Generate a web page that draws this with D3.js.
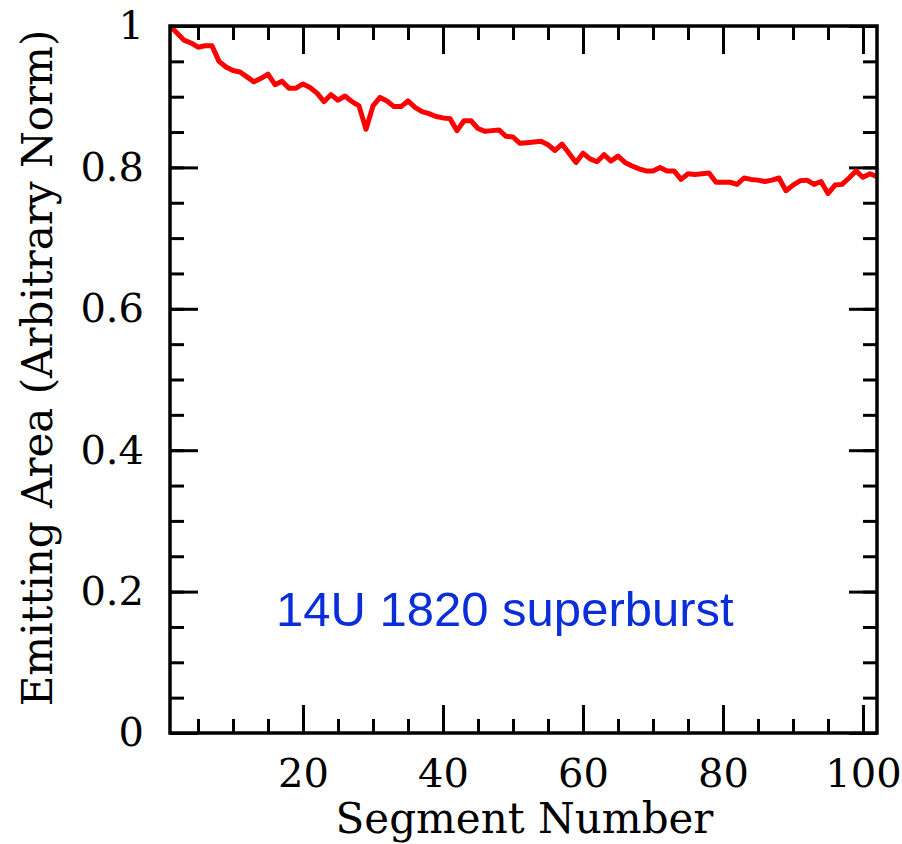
<!DOCTYPE html>
<html>
<head>
<meta charset="utf-8">
<script src="https://cdn.jsdelivr.net/npm/d3@7"></script>
<style>
  html, body { margin: 0; padding: 0; background: #fff; }
  svg { display: block; }
  .tick text { font-family: "DejaVu Serif", serif; }
</style>
</head>
<body>
<svg id="chart"></svg>
<script>
// segment numbers and emitting area
const segments = d3.range(1, 103);
const area = [
  1.000, 0.990, 0.980, 0.976, 0.970, 0.972, 0.972, 0.950, 0.942, 0.937,
  0.935, 0.928, 0.921, 0.926, 0.932, 0.917, 0.922, 0.912, 0.912, 0.918,
  0.913, 0.905, 0.893, 0.903, 0.895, 0.901, 0.893, 0.887, 0.854, 0.887,
  0.899, 0.894, 0.886, 0.886, 0.894, 0.885, 0.879, 0.876, 0.872, 0.870,
  0.869, 0.852, 0.866, 0.866, 0.855, 0.851, 0.852, 0.853, 0.844, 0.843,
  0.834, 0.835, 0.836, 0.837, 0.832, 0.824, 0.833, 0.820, 0.807, 0.820,
  0.812, 0.808, 0.818, 0.809, 0.816, 0.807, 0.802, 0.798, 0.795, 0.795,
  0.800, 0.795, 0.795, 0.783, 0.791, 0.790, 0.791, 0.792, 0.779, 0.779,
  0.779, 0.776, 0.785, 0.783, 0.782, 0.780, 0.782, 0.785, 0.767, 0.775,
  0.781, 0.782, 0.776, 0.780, 0.763, 0.775, 0.776, 0.785, 0.795, 0.786,
  0.791, 0.787
];
const xMajor = [20, 40, 60, 80, 100];
const xMinor = d3.range(5, 101, 5);
const yMajor = [0, 0.2, 0.4, 0.6, 0.8, 1];
const yMinor = d3.range(0, 21).map(i => i * 0.05);
const label = "14U 1820 superburst";

const W = 902, H = 844;
const plotL = 170, plotR = 877, plotT = 26, plotB = 733;
const MAJOR = 28, MINOR = 14;

const svg = d3.select('#chart').attr('width', W).attr('height', H);

const x = d3.scaleLinear().domain([1, 102]).range([plotL, plotR]);
const y = d3.scaleLinear().domain([0, 1]).range([plotB, plotT]);

const fmtY = d => d === 0 ? '0' : d === 1 ? '1' : d3.format('.1f')(d);

function addAxis(axis, tx, ty, showLabels) {
	const g = svg.append('g').attr('transform', `translate(${tx},${ty})`).call(axis);
	g.select('.domain').remove();
	g.selectAll('.tick line').attr('stroke', '#000').attr('stroke-width', 3);
	if (!showLabels) g.selectAll('.tick text').remove();
	return g;
}

// minor ticks, all four sides, pointing in
addAxis(d3.axisBottom(x).tickValues(xMinor).tickSize(-MINOR), 0, plotB, false);
addAxis(d3.axisTop(x).tickValues(xMinor).tickSize(-MINOR), 0, plotT, false);
addAxis(d3.axisLeft(y).tickValues(yMinor).tickSize(-MINOR), plotL, 0, false);
addAxis(d3.axisRight(y).tickValues(yMinor).tickSize(-MINOR), plotR, 0, false);

// major ticks
const gx = addAxis(d3.axisBottom(x).tickValues(xMajor).tickSize(-MAJOR).tickPadding(26), 0, plotB, true);
gx.selectAll('.tick text').attr('font-size', 40).attr('fill', '#000');
addAxis(d3.axisTop(x).tickValues(xMajor).tickSize(-MAJOR), 0, plotT, false);
const gy = addAxis(d3.axisLeft(y).tickValues(yMajor).tickSize(-MAJOR).tickPadding(26).tickFormat(fmtY), plotL, 0, true);
gy.selectAll('.tick text').attr('font-size', 40).attr('fill', '#000');
addAxis(d3.axisRight(y).tickValues(yMajor).tickSize(-MAJOR), plotR, 0, false);

// data line
const line = d3.line().x((d, i) => x(segments[i])).y(d => y(d));
svg.append('path')
	.datum(area)
	.attr('d', line)
	.attr('fill', 'none')
	.attr('stroke', '#ff0000')
	.attr('stroke-width', 5)
	.attr('stroke-linejoin', 'round');

// frame
svg.append('rect')
	.attr('x', plotL).attr('y', plotT)
	.attr('width', plotR - plotL).attr('height', plotB - plotT)
	.attr('fill', 'none').attr('stroke', '#000').attr('stroke-width', 3.5);

// axis titles
svg.append('text')
	.attr('x', (plotL + plotR) / 2 + 1).attr('y', 833)
	.attr('text-anchor', 'middle')
	.attr('font-family', '"DejaVu Serif", serif').attr('font-size', 42)
	.text('Segment Number');

svg.append('text')
	.attr('transform', 'translate(52,368) rotate(-90)')
	.attr('text-anchor', 'middle')
	.attr('font-family', '"DejaVu Serif", serif').attr('font-size', 42)
	.text('Emitting Area (Arbitrary Norm)');

// annotation
svg.append('text')
	.attr('x', 276).attr('y', 626)
	.attr('font-family', '"Liberation Sans", Arial, sans-serif').attr('font-size', 49)
	.attr('fill', '#0a2ed8')
	.text(label);
</script>
</body>
</html>
